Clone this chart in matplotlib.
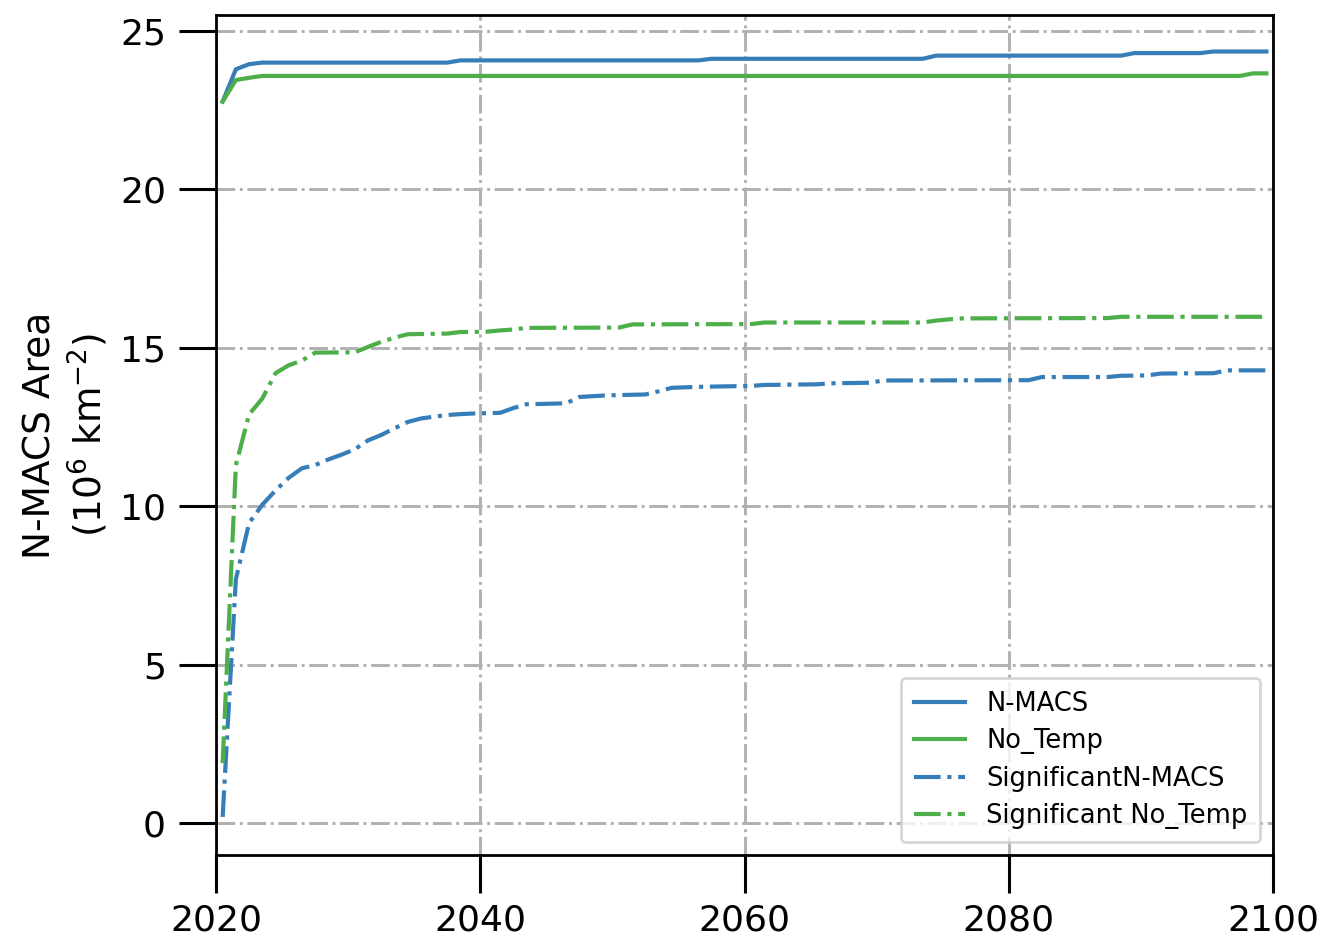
import matplotlib

matplotlib.use("Agg")
import matplotlib.pyplot as plt

# Series values at the years where the curves change (annual mid-year points)
nmacs_years = [2020.5, 2021.5, 2022.5, 2023.5, 2037.5, 2038.5, 2056.5, 2057.5,
               2073.5, 2074.5, 2088.5, 2089.5, 2094.5, 2095.5, 2099.5]
nmacs_area = [22.77, 23.79, 23.95, 24.0, 24.0, 24.07, 24.07, 24.12,
              24.12, 24.22, 24.22, 24.3, 24.3, 24.35, 24.35]

notemp_years = [2020.5, 2021.5, 2022.5, 2023.5, 2097.5, 2098.5, 2099.5]
notemp_area = [22.77, 23.45, 23.52, 23.58, 23.58, 23.66, 23.66]

sig_nmacs_years = [2020.5, 2021.5, 2022.5, 2023.5, 2024.5, 2025.5, 2026.5, 2027.5,
                   2028.5, 2029.5, 2030.5, 2031.5, 2032.5, 2033.5, 2034.5, 2035.5,
                   2036.5, 2037.5, 2038.5, 2039.5, 2041.5, 2042.5, 2043.5, 2046.5,
                   2047.5, 2049.5, 2052.5, 2053.5, 2054.5, 2056.5, 2060.5, 2061.5,
                   2065.5, 2066.5, 2069.5, 2070.5, 2081.5, 2082.5, 2087.5, 2088.5,
                   2090.5, 2091.5, 2095.5, 2096.5, 2099.5]
sig_nmacs_area = [0.2, 7.7, 9.47, 10.05, 10.5, 10.9, 11.2, 11.3,
                  11.48, 11.63, 11.8, 12.08, 12.25, 12.46, 12.66, 12.77,
                  12.83, 12.88, 12.91, 12.93, 12.95, 13.1, 13.22, 13.25,
                  13.45, 13.5, 13.53, 13.63, 13.74, 13.77, 13.8, 13.83,
                  13.85, 13.88, 13.9, 13.97, 13.98, 14.08, 14.08, 14.12,
                  14.13, 14.19, 14.2, 14.29, 14.29]

sig_notemp_years = [2020.5, 2021.5, 2022.5, 2023.5, 2024.5, 2025.5, 2026.5, 2027.5,
                    2030.5, 2031.5, 2032.5, 2033.5, 2034.5, 2037.5, 2038.5, 2040.5,
                    2041.5, 2042.5, 2043.5, 2050.5, 2051.5, 2060.5, 2061.5, 2073.5,
                    2074.5, 2075.5, 2076.5, 2087.5, 2088.5, 2099.5]
sig_notemp_area = [1.9, 11.3, 12.9, 13.4, 14.2, 14.45, 14.6, 14.85,
                   14.86, 15.03, 15.19, 15.32, 15.43, 15.45, 15.5, 15.51,
                   15.55, 15.58, 15.63, 15.64, 15.74, 15.75, 15.8, 15.8,
                   15.86, 15.9, 15.93, 15.94, 15.98, 15.98]

BLUE = "#377eb8"
GREEN = "#4daf4a"

plt.rcParams.update({
    "font.family": "DejaVu Sans",
    "axes.linewidth": 2.0,
    "xtick.major.width": 2.2,
    "ytick.major.width": 2.2,
    "xtick.major.size": 27,
    "ytick.major.size": 27,
    "xtick.major.pad": 8,
    "ytick.major.pad": 9,
    "xtick.labelsize": 26,
    "ytick.labelsize": 26,
})

fig = plt.figure(figsize=(13.27, 9.41), dpi=100)
ax = fig.add_axes([0.1628, 0.0914, 0.7965, 0.8926])

lw = 3.0
ax.plot(nmacs_years, nmacs_area, color=BLUE, lw=lw, label="N-MACS")
ax.plot(notemp_years, notemp_area, color=GREEN, lw=lw, label="No_Temp")
ax.plot(sig_nmacs_years, sig_nmacs_area, color=BLUE, lw=lw, ls="-.",
        label="SignificantN-MACS")
ax.plot(sig_notemp_years, sig_notemp_area, color=GREEN, lw=lw, ls="-.",
        label="Significant No_Temp")

ax.set_xlim(2020, 2100)
ax.set_ylim(-1, 25.5)
ax.set_xticks([2020, 2040, 2060, 2080, 2100])
ax.set_yticks([0, 5, 10, 15, 20, 25])
ax.grid(True, ls="-.", color="#b0b0b0", lw=2.1)
ax.set_axisbelow(True)

ax.set_ylabel("N-MACS Area\n(10$^{6}$ km$^{-2}$)", fontsize=27, labelpad=7)

leg = ax.legend(loc="lower right", fontsize=18.5, frameon=True, fancybox=True,
                framealpha=0.8, edgecolor="#cccccc", handlelength=2.0,
                borderpad=0.5, labelspacing=0.45)
leg.get_frame().set_linewidth(2.0)

fig.savefig("out.png", dpi=100)
